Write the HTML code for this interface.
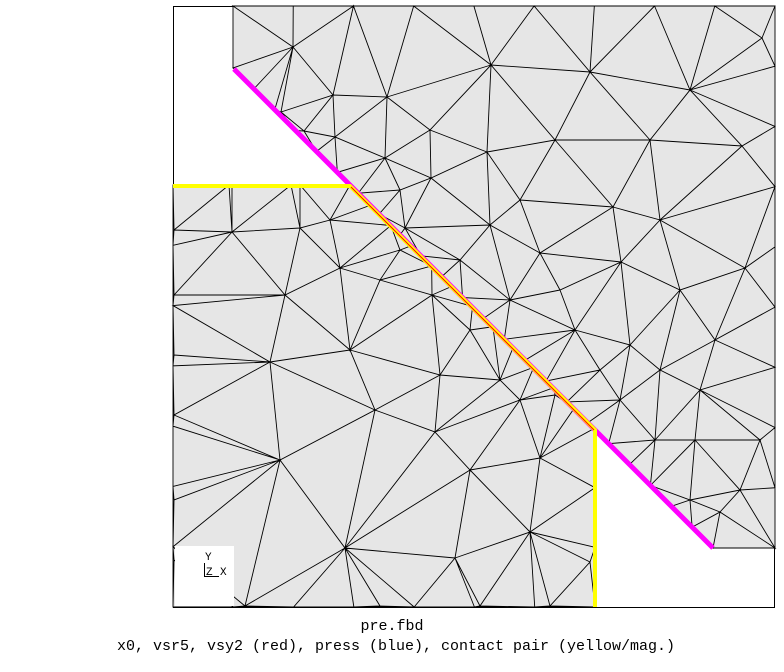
<!DOCTYPE html>
<html><head><meta charset="utf-8">
<style>
html,body{margin:0;padding:0;background:#fff;width:784px;height:672px;overflow:hidden}
svg{display:block}
text{font-family:"Liberation Mono",monospace;font-size:15px;fill:#000}
</style></head>
<body>
<svg id="fig" width="784" height="672" viewBox="0 0 784 672">
  <rect x="173.5" y="6.5" width="601" height="601" fill="#fff" stroke="#000" stroke-width="1"/>
  <g id="mesh"></g>
  <g id="contacts"></g>
  <g>
    <rect x="175" y="546" width="59" height="60" fill="#fff"/>
    <text x="205" y="560" style="font-size:11px">Y</text>
    <line x1="204.5" y1="563" x2="204.5" y2="576" stroke="#000"/>
    <line x1="204" y1="576.5" x2="219" y2="576.5" stroke="#000"/>
    <text x="206" y="575" style="font-size:11px">Z</text>
    <text x="220" y="575" style="font-size:11px">X</text>
  </g>
  <text x="392" y="630" text-anchor="middle">pre.fbd</text>
  <text x="396" y="650" text-anchor="middle">x0, vsr5, vsy2 (red), press (blue), contact pair (yellow/mag.)</text>
</svg>
<script>
// block outlines
const upperPoly=[[233,6],[775,6],[775,548],[713,548],[233,68]];
const lowerPoly=[[173,185],[350,185],[595,428],[595,607],[173,607]];
// interior nodes
const upperNodes=[[293,47],[491,65],[590,72],[762,38],[333,95],[387,97],[281,112],[304,131],[335,137],[385,158],[487,152],[555,140],[742,146],[431,178],[405,228],[358,195],[490,225],[613,207],[745,268],[660,220],[560,290],[621,262],[540,253],[575,330],[630,345],[715,340],[620,400],[700,390],[760,440],[655,440],[695,440],[740,490],[690,500],[720,512],[430,130],[650,140],[690,90],[520,200],[680,290],[460,260],[510,300],[400,190],[600,370],[660,370]];
const lowerNodes=[[229,185],[300,185],[232,232],[300,228],[174,230],[174,295],[285,295],[340,268],[380,280],[174,355],[270,362],[350,350],[432,295],[440,375],[375,410],[470,330],[520,345],[280,460],[174,415],[174,500],[435,432],[520,400],[540,458],[470,470],[345,548],[455,558],[530,532],[590,562],[245,606],[380,606],[550,606],[330,220],[400,250],[500,380],[555,395],[595,480],[595,520],[174,560],[480,606]];

function edgeSamples(poly){
  const out=[];
  for(let i=0;i<poly.length;i++){
    const a=poly[i],b=poly[(i+1)%poly.length];
    const diag=Math.abs(b[0]-a[0])>5&&Math.abs(b[1]-a[1])>5;
    const step=diag?30:60;
    const L=Math.hypot(b[0]-a[0],b[1]-a[1]);const n=Math.max(1,Math.round(L/step));
    for(let k=0;k<n;k++)out.push([a[0]+(b[0]-a[0])*k/n,a[1]+(b[1]-a[1])*k/n]);
  }
  return out;
}
function inPoly(p,poly){
  let c=false;
  for(let i=0,j=poly.length-1;i<poly.length;j=i++){
    const [xi,yi]=poly[i],[xj,yj]=poly[j];
    if(((yi>p[1])!=(yj>p[1]))&&(p[0]<(xj-xi)*(p[1]-yi)/(yj-yi)+xi))c=!c;
  }
  return c;
}
function circ(a,b,c){
  const d=2*(a[0]*(b[1]-c[1])+b[0]*(c[1]-a[1])+c[0]*(a[1]-b[1]));
  const ux=((a[0]**2+a[1]**2)*(b[1]-c[1])+(b[0]**2+b[1]**2)*(c[1]-a[1])+(c[0]**2+c[1]**2)*(a[1]-b[1]))/d;
  const uy=((a[0]**2+a[1]**2)*(c[0]-b[0])+(b[0]**2+b[1]**2)*(a[0]-c[0])+(c[0]**2+c[1]**2)*(b[0]-a[0]))/d;
  return [ux,uy,(a[0]-ux)**2+(a[1]-uy)**2];
}
function delaunay(pts){
  const P=pts.slice();const n=P.length;
  P.push([-5000,-5000],[6000,-5000],[500,6000]);
  let tris=[[n,n+1,n+2]];
  for(let i=0;i<n;i++){
    const p=P[i];const bad=[],keep=[];
    for(const t of tris){const c=circ(P[t[0]],P[t[1]],P[t[2]]);
      if((p[0]-c[0])**2+(p[1]-c[1])**2<c[2])bad.push(t);else keep.push(t);}
    const cnt={};
    for(const t of bad)for(const [a,b] of [[t[0],t[1]],[t[1],t[2]],[t[2],t[0]]]){const k=a<b?a+'_'+b:b+'_'+a;cnt[k]=(cnt[k]||0)+1;}
    for(const t of bad)for(const [a,b] of [[t[0],t[1]],[t[1],t[2]],[t[2],t[0]]]){const k=a<b?a+'_'+b:b+'_'+a;if(cnt[k]===1)keep.push([a,b,i]);}
    tris=keep;
  }
  return {P,tris:tris.filter(t=>t[0]<n&&t[1]<n&&t[2]<n)};
}
const NS='http://www.w3.org/2000/svg';
const mesh=document.getElementById('mesh');
function drawBlock(poly,nodes,name){
  const pg=document.createElementNS(NS,'polygon');
  pg.setAttribute('points',poly.map(p=>p.join(',')).join(' '));
  pg.setAttribute('fill','#e6e6e6');
  
  
  mesh.appendChild(pg);
  const pts=edgeSamples(poly).concat(nodes.filter(p=>inPoly(p,poly)));
  const {P,tris}=delaunay(pts);
  let d='';
  for(const t of tris){
    const c=[(P[t[0]][0]+P[t[1]][0]+P[t[2]][0])/3,(P[t[0]][1]+P[t[1]][1]+P[t[2]][1])/3];
    if(!inPoly(c,poly))continue;
    d+='M'+P[t[0]].join(',')+'L'+P[t[1]].join(',')+'L'+P[t[2]].join(',')+'Z';
  }
  const path=document.createElementNS(NS,'path');
  path.setAttribute('d',d);path.setAttribute('fill','none');
  path.setAttribute('stroke','#000');path.setAttribute('stroke-width','0.9');
  
  
  mesh.appendChild(path);
}
drawBlock(upperPoly,upperNodes,'upper-block');
drawBlock(lowerPoly,lowerNodes,'lower-block');
const con=document.getElementById('contacts');
function line(pts,color,w,name){
  const pl=document.createElementNS(NS,'polyline');
  pl.setAttribute('points',pts.map(p=>p.join(',')).join(' '));
  pl.setAttribute('fill','none');pl.setAttribute('stroke',color);pl.setAttribute('stroke-width',w);
  
  
  con.appendChild(pl);
}
line([[234,69],[713,548]],'#ff00ff',5,'contact-master-magenta');
line([[173,186],[350,186],[595,430],[595,607]],'#ffff00',4,'contact-slave-yellow');
line([[351,187],[594,430]],'#ff0000',1,'vsy2-red-line');
</script>
</body></html>
